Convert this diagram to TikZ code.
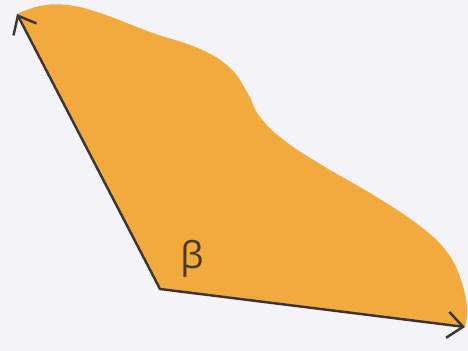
\documentclass[tikz,border=0pt]{standalone}
\usepackage{fontspec}
\setmainfont{Open Sans}
\usetikzlibrary{arrows.meta}
\definecolor{bgc}{HTML}{F4F3F7}
\definecolor{fillc}{HTML}{F2AA3E}
\definecolor{linec}{HTML}{3B3632}
\definecolor{labc}{HTML}{4A3A22}
\tikzset{
  ray/.style={draw=linec, line width=1.4pt, line join=miter,
    arrows={Straight Barb[length=0.31cm, width=0.52cm, line width=1.4pt]-Straight Barb[length=0.31cm, width=0.52cm, line width=1.4pt]}},
  anglelabel/.style={text=labc, font=\fontsize{21}{21}\selectfont, inner sep=0pt}
}
\begin{document}
\begin{tikzpicture}[x=0.02cm, y=-0.02cm]
\fill[bgc] (0,0) rectangle (468,351);
\useasboundingbox (0,0) rectangle (468,351);
\coordinate (O) at (160,289);
\coordinate (A) at (17,14);
\coordinate (B) at (465,327);
\fill[fillc] (O) -- (A) -- plot[smooth, tension=0.7] coordinates {(17,14) (40,6) (67,5) (100,13) (150,32) (200,49) (230,68) (247,92) (260,117) (285,141) (325,167) (375,196) (420,226) (447,252) (461,280) (467,308) (465,327)} -- (B) -- cycle;
\draw[ray] (A) -- (O) -- (B);
\node[anglelabel] (beta) at (192,259) {β};
\end{tikzpicture}
\end{document}
